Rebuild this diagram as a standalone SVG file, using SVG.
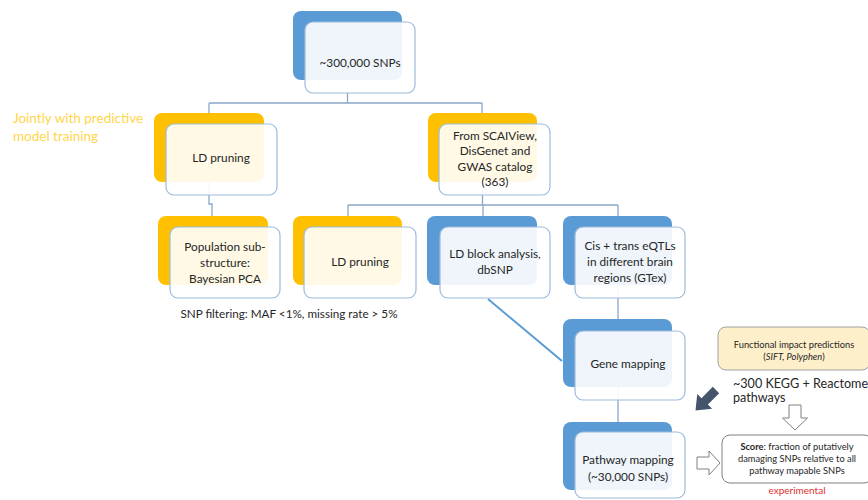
<svg xmlns="http://www.w3.org/2000/svg" width="868" height="500" viewBox="0 0 868 500">
<style>
.bb{fill:#5b9bd5}
.by{fill:#ffc000}
.fr{fill:#ffffff;fill-opacity:0.9;stroke:#9dbbdb;stroke-width:1.2}
.t{font-family:Lato,"Open Sans",sans-serif;font-size:11.8px;fill:#262626;text-anchor:middle}
.c{fill:none;stroke:#8aa8c8;stroke-width:1.3}
.s{font-family:Lato,"Open Sans",sans-serif;font-size:9.3px;fill:#262626;text-anchor:middle}
</style>
<rect width="868" height="500" fill="#ffffff"/>
<g id="connectors">
<path class="c" d="M347.5,93 V103 M209,103 H482 M209,103 V113 M482,103 V113"/>
<path class="c" d="M209,182 V204 H212 V216"/>
<path class="c" d="M482.5,182 V205 M348,205 H618 M348,205 V216 M483,205 V216 M618,205 V216"/>
<path class="c" d="M618,285 V319 M618,387 V422"/>
<path d="M488,299 L562,361" fill="none" stroke="#5b9bd5" stroke-width="2"/>
</g>
<g id="n-top">
<rect class="bb" x="293" y="11" width="109" height="69" rx="8"/>
<rect class="fr" x="305" y="22" width="110" height="71" rx="8"/>
<text class="t" x="360" y="66.5" font-size="10">~300,000 SNPs</text>
</g>
<g id="n-ldp1">
<rect class="by" x="154" y="113" width="110" height="69" rx="8"/>
<rect class="fr" x="166" y="124" width="111" height="71" rx="8"/>
<text class="t" x="221" y="162">LD pruning</text>
</g>
<g id="n-scai">
<rect class="by" x="428" y="113" width="109" height="69" rx="8"/>
<rect class="fr" x="439" y="124" width="111" height="71" rx="8"/>
<text class="t" x="495" y="139.5">From SCAIView,</text>
<text class="t" x="495" y="155">DisGenet and</text>
<text class="t" x="495" y="170.5">GWAS catalog</text>
<text class="t" x="495" y="186">(363)</text>
</g>
<g id="n-pop">
<rect class="by" x="158" y="216" width="110" height="69" rx="8"/>
<rect class="fr" x="170" y="227" width="110" height="71" rx="8"/>
<text class="t" x="225" y="250.5">Population sub-</text>
<text class="t" x="225" y="266.5">structure:</text>
<text class="t" x="225" y="283">Bayesian PCA</text>
</g>
<g id="n-ldp2">
<rect class="by" x="293" y="216" width="109" height="69" rx="8"/>
<rect class="fr" x="304" y="227" width="112" height="71" rx="8"/>
<text class="t" x="360" y="266">LD pruning</text>
</g>
<g id="n-ldb">
<rect class="bb" x="427" y="216" width="110" height="69" rx="8"/>
<rect class="fr" x="440" y="227" width="110" height="71" rx="8"/>
<text class="t" x="495" y="258">LD block analysis,</text>
<text class="t" x="495" y="274">dbSNP</text>
</g>
<g id="n-cis">
<rect class="bb" x="563" y="216" width="109" height="69" rx="8"/>
<rect class="fr" x="575" y="227" width="110" height="71" rx="8"/>
<text class="t" x="630" y="250">Cis + trans eQTLs</text>
<text class="t" x="630" y="266">in different brain</text>
<text class="t" x="630" y="282">regions (GTex)</text>
</g>
<g id="n-gene">
<rect class="bb" x="563" y="319" width="109" height="68" rx="8"/>
<rect class="fr" x="575" y="331" width="110" height="69" rx="8"/>
<text class="t" x="628" y="368">Gene mapping</text>
</g>
<g id="n-path">
<rect class="bb" x="563" y="422" width="109" height="68" rx="8"/>
<rect class="fr" x="575" y="432" width="110" height="66" rx="8"/>
<text class="t" x="628" y="464">Pathway mapping</text>
<text class="t" x="628" y="481">(~30,000 SNPs)</text>
</g>
<g id="n-func">
<rect x="718" y="327" width="152" height="43" rx="8" fill="#fcefc9" stroke="#a0a0a0" stroke-width="1"/>
<text class="s" x="794" y="348">Functional impact predictions</text>
<text class="s" x="794" y="360">(<tspan font-style="italic">SIFT, Polyphen</tspan>)</text>
</g>
<g id="n-score">
<rect x="722" y="435" width="150" height="48" rx="8" fill="#ffffff" stroke="#808080" stroke-width="1"/>
<text class="s" x="797" y="450"><tspan font-weight="bold">Score</tspan>: fraction of putatively</text>
<text class="s" x="797" y="462">damaging SNPs relative to all</text>
<text class="s" x="797" y="474">pathway mapable SNPs</text>
</g>
<g id="labels">
<text x="13" y="123" font-family="Lato,'Open Sans',sans-serif" font-size="13.5" fill="#ffd54a">Jointly with predictive</text>
<text x="13" y="141" font-family="Lato,'Open Sans',sans-serif" font-size="13.5" fill="#ffd54a">model training</text>
<text x="289" y="317.5" font-family="Lato,'Open Sans',sans-serif" font-size="11.7" fill="#262626" text-anchor="middle">SNP filtering:  MAF &lt;1%, missing rate &gt; 5%</text>
<text x="733" y="387.5" font-family="Lato,'Open Sans',sans-serif" font-size="12.6" fill="#262626">~300 KEGG + Reactome</text>
<text x="733" y="401.5" font-family="Lato,'Open Sans',sans-serif" font-size="12.6" fill="#262626">pathways</text>
<text x="797" y="494" font-family="Lato,'Open Sans',sans-serif" font-size="10" fill="#e03030" text-anchor="middle">experimental</text>
</g>
<g id="arrows">
<polygon points="0,-4.5 16,-4.5 16,-10.5 29,0 16,10.5 16,4.5 0,4.5" fill="#44546a" transform="translate(716,390) rotate(135)"/>
<polygon points="789,405 801,405 801,418 807.5,418 795,430 782.5,418 789,418" fill="#ffffff" stroke="#808080" stroke-width="1"/>
<polygon points="697,457 709,457 709,451 720,463 709,475 709,469 697,469" fill="#ffffff" stroke="#808080" stroke-width="1"/>
</g>
</svg>
